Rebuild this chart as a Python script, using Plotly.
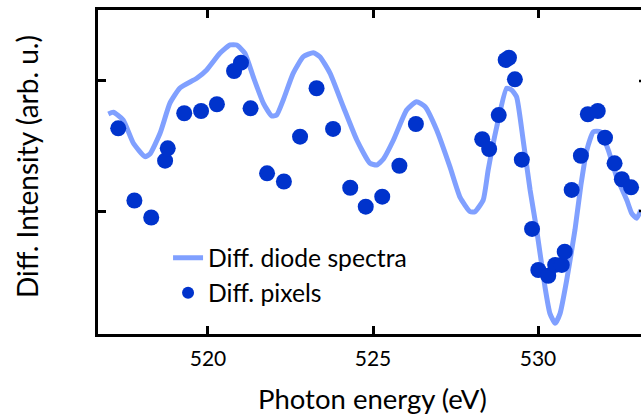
import plotly.graph_objects as go

# Diff. diode spectra (continuous line)
diode_energy = [516.98, 517.13, 517.43, 517.74, 518.09, 518.24, 518.55, 518.85, 519.15, 519.66,
                519.96, 520.36, 520.67, 520.87, 521.12, 521.37, 521.68, 521.93, 522.08, 522.28,
                522.58, 522.89, 523.19, 523.39, 523.70, 524.10, 524.51, 524.91, 525.11, 525.31,
                525.62, 526.02, 526.32, 526.58, 526.93, 527.33, 527.64, 527.94, 528.09, 528.34,
                528.49, 528.75, 529.05, 529.20, 529.35, 529.55, 529.76, 529.96, 530.21, 530.36,
                530.52, 530.67, 530.87, 531.12, 531.30, 531.48, 531.68, 531.88, 532.13, 532.38,
                532.69, 532.84, 532.99, 533.12]
diode_intensity = [0.746, 0.759, 0.700, 0.521, 0.418, 0.438, 0.600, 0.831, 0.946, 1.021,
                   1.085, 1.213, 1.277, 1.277, 1.213, 1.033, 0.828, 0.731, 0.738, 0.854,
                   1.059, 1.187, 1.218, 1.187, 1.059, 0.802, 0.546, 0.367, 0.354, 0.398,
                   0.546, 0.777, 0.841, 0.802, 0.623, 0.341, 0.104, -0.005, -0.005, 0.085,
                   0.315, 0.648, 0.944, 0.931, 0.879, 0.546, 0.162, -0.146, -0.582, -0.787,
                   -0.864, -0.787, -0.531, -0.146, 0.200, 0.469, 0.610, 0.610, 0.469, 0.264,
                   0.085, -0.018, -0.056, 0.008]

# Diff. pixels (markers)
pixel_energy = [517.28, 517.77, 518.28, 518.70, 518.78, 519.28, 519.79, 520.27, 520.79, 521.00,
                521.29, 521.79, 522.30, 522.79, 523.29, 523.79, 524.31, 524.78, 525.28, 525.80,
                526.30, 528.31, 528.52, 528.81, 529.02, 529.12, 529.30, 529.51, 529.82, 530.01,
                530.31, 530.52, 530.72, 530.81, 531.02, 531.30, 531.51, 531.81, 532.03, 532.32,
                532.54, 532.82]
pixel_intensity = [0.636, 0.081, -0.050, 0.387, 0.482, 0.752, 0.769, 0.821, 1.077, 1.141,
                   0.790, 0.290, 0.227, 0.572, 0.944, 0.631, 0.179, 0.033, 0.110, 0.348,
                   0.669, 0.552, 0.477, 0.738, 1.162, 1.179, 1.013, 0.395, -0.138, -0.454,
                   -0.498, -0.415, -0.415, -0.313, 0.162, 0.425, 0.744, 0.769, 0.564, 0.367,
                   0.244, 0.182]

x_ticks = [520, 525, 530]
x_tick_labels = ["520", "525", "530"]
y_ticks = [0, 1]

FONT = "Lato"
LINE_COLOR = "#80a0ff"
MARKER_COLOR = "#0033cc"

fig = go.Figure()
fig.add_trace(go.Scatter(
    x=diode_energy, y=diode_intensity, mode="lines",
    name="Diff. diode spectra",
    line=dict(color=LINE_COLOR, width=5, shape="spline", smoothing=0.5),
))
fig.add_trace(go.Scatter(
    x=pixel_energy, y=pixel_intensity, mode="markers",
    name="Diff. pixels",
    marker=dict(color=MARKER_COLOR, size=16, line=dict(width=0)),
))

fig.update_layout(
    width=641, height=415,
    margin=dict(l=98, r=0, t=10, b=81),
    paper_bgcolor="white", plot_bgcolor="white",
    font=dict(family=FONT, color="black"),
    showlegend=True,
    legend=dict(
        x=0.129, y=0.305, xanchor="left", yanchor="top",
        bgcolor="rgba(0,0,0,0)", borderwidth=0,
        font=dict(family=FONT, size=24.7, color="black"),
        itemsizing="constant", tracegroupgap=0,
    ),
    annotations=[
        dict(text="Photon energy (eV)", xref="paper", yref="paper",
             x=0.5064, y=-0.2006, xanchor="center", yanchor="middle",
             showarrow=False, font=dict(family=FONT, size=27.5, color="black")),
        dict(text="Diff. Intensity (arb. u.)", xref="paper", yref="paper",
             x=-0.1308, y=0.5185, xanchor="center", yanchor="middle", textangle=-90,
             showarrow=False, font=dict(family=FONT, size=28, color="black")),
    ],
)

fig.update_xaxes(
    range=[516.667, 533.121],
    tickvals=x_ticks, ticktext=x_tick_labels,
    ticks="inside", ticklen=8, tickwidth=2.5, tickcolor="black",
    showline=True, linewidth=2.5, linecolor="black", mirror="ticks",
    showgrid=False, zeroline=False, ticklabelstandoff=4,
    tickfont=dict(family=FONT, size=21, color="black"),
)
fig.update_yaxes(
    range=[-0.946, 1.546],
    tickvals=y_ticks, showticklabels=False,
    ticks="inside", ticklen=8, tickwidth=2.5, tickcolor="black",
    showline=True, linewidth=2.5, linecolor="black", mirror=False,
    showgrid=False, zeroline=False,
)

# right-hand mirrored y ticks (the right axis line itself lies just outside the frame)
for yv in y_ticks:
    fig.add_shape(type="line", xref="paper", yref="y",
                  x0=1 - 2 / 543, x1=1, y0=yv, y1=yv,
                  line=dict(color="black", width=2.5))

fig.write_html("out.html")
